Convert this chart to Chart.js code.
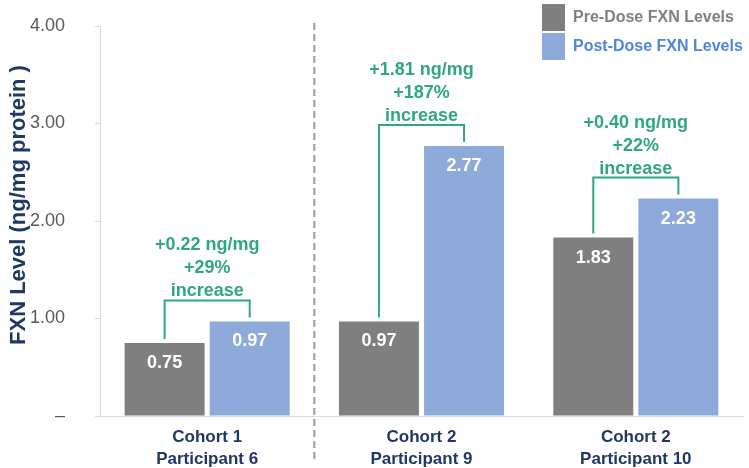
<!DOCTYPE html>
<html>
<head>
<meta charset="utf-8">
<script src="https://cdn.jsdelivr.net/npm/chart.js@4.4.1/dist/chart.umd.min.js"></script>
<style>
  body { margin: 0; background: #fff; }
  #wrap { width: 749px; height: 468px; position: relative; }
</style>
</head>
<body>
<div id="wrap"><canvas id="fxnChart"></canvas></div>
<script>
const categories = [['Cohort 1', 'Participant 6'], ['Cohort 2', 'Participant 9'], ['Cohort 2', 'Participant 10']];
const preDose = [0.75, 0.97, 1.83];
const postDose = [0.97, 2.77, 2.23];
const changeText = ['+0.22 ng/mg', '+1.81 ng/mg', '+0.40 ng/mg'];
const pctText = ['+29%', '+187%', '+22%'];
const seriesNames = ['Pre-Dose FXN Levels', 'Post-Dose FXN Levels'];
const yTicks = [0, 1, 2, 3, 4];
const yTitle = 'FXN Level (ng/mg protein )';

const GRAY = '#7f7f7f';
const BLUE = '#8eaadb';
const GREEN = '#2fa87b';
const NAVY = '#1f3864';
const FONT = 'Liberation Sans, Arial, sans-serif';

// labels, brackets, divider, axis title and legend drawn on top of the bars
const overlay = {
  id: 'overlay',
  afterDatasetsDraw(chart) {
    const ctx = chart.ctx;
    const x = chart.scales.x;
    const y = chart.scales.y;
    const area = chart.chartArea;
    const pre = chart.getDatasetMeta(0).data;
    const post = chart.getDatasetMeta(1).data;

    // values inside bars
    ctx.save();
    ctx.fillStyle = '#fff';
    ctx.font = 'bold 18px ' + FONT;
    ctx.textAlign = 'center';
    ctx.textBaseline = 'middle';
    [pre, post].forEach((bars, d) => {
      const vals = d === 0 ? preDose : postDose;
      bars.forEach((b, i) => ctx.fillText(vals[i].toFixed(2), b.x, b.y + 20));
    });
    ctx.restore();

    // brackets and change text
    ctx.save();
    ctx.strokeStyle = GREEN;
    ctx.fillStyle = GREEN;
    ctx.lineWidth = 2;
    ctx.font = 'bold 18px ' + FONT;
    ctx.textAlign = 'center';
    ctx.textBaseline = 'middle';
    for (let i = 0; i < categories.length; i++) {
      const x1 = pre[i].x, x2 = post[i].x;
      const yPre = y.getPixelForValue(preDose[i]);
      const yPost = y.getPixelForValue(postDose[i]);
      const top = Math.min(yPre, yPost) - 21;
      ctx.beginPath();
      ctx.moveTo(x1, yPre - 4);
      ctx.lineTo(x1, top);
      ctx.lineTo(x2, top);
      ctx.lineTo(x2, yPost - 4);
      ctx.stroke();
      const cx = (x1 + x2) / 2;
      ctx.fillText('increase', cx, top - 9);
      ctx.fillText(pctText[i], cx, top - 32);
      ctx.fillText(changeText[i], cx, top - 55);
    }
    ctx.restore();

    // dashed divider between cohort 1 and cohort 2
    const dx = (x.getPixelForValue(0) + x.getPixelForValue(1)) / 2;
    ctx.save();
    ctx.strokeStyle = '#9a9a9a';
    ctx.lineWidth = 2;
    ctx.setLineDash([7, 4]);
    ctx.beginPath();
    ctx.moveTo(dx, area.top - 3);
    ctx.lineTo(dx, chart.height - 6);
    ctx.stroke();
    ctx.restore();

    // y axis title
    ctx.save();
    ctx.translate(19, (area.top + area.bottom) / 2 - 16);
    ctx.rotate(-Math.PI / 2);
    ctx.fillStyle = NAVY;
    ctx.font = 'bold 22px ' + FONT;
    ctx.textAlign = 'center';
    ctx.textBaseline = 'middle';
    ctx.fillText(yTitle, 0, 0);
    ctx.restore();

    // legend
    ctx.save();
    ctx.font = 'bold 16px ' + FONT;
    ctx.textAlign = 'left';
    ctx.textBaseline = 'middle';
    const colors = [GRAY, BLUE];
    const textColors = ['#7f7f7f', '#4f86d9'];
    for (let k = 0; k < seriesNames.length; k++) {
      const ly = 4 + k * 29;
      ctx.fillStyle = colors[k];
      ctx.fillRect(542, ly, 23, 27);
      ctx.fillStyle = textColors[k];
      ctx.fillText(seriesNames[k], 573, ly + 14);
    }
    ctx.restore();
  }
};

new Chart(document.getElementById('fxnChart'), {
  type: 'bar',
  data: {
    labels: categories,
    datasets: [
      { label: seriesNames[0], data: preDose, backgroundColor: GRAY },
      { label: seriesNames[1], data: postDose, backgroundColor: BLUE }
    ]
  },
  options: {
    responsive: true,
    maintainAspectRatio: false,
    animation: false,
    events: [],
    layout: { padding: { top: 26, right: 6, left: 0, bottom: 0 } },
    datasets: { bar: { categoryPercentage: 0.794, barPercentage: 0.94 } },
    plugins: { legend: { display: false }, tooltip: { enabled: false } },
    scales: {
      x: {
        grid: { display: false },
        border: { color: '#d9d9d9', width: 1 },
        ticks: {
          color: NAVY,
          font: { family: FONT, size: 17, weight: 'bold', lineHeight: 1.25 },
          padding: 3,
          maxRotation: 0
        },
        afterFit(scale) { scale.height = 52; }
      },
      y: {
        min: 0,
        max: 4,
        afterBuildTicks(scale) { scale.ticks = yTicks.map(v => ({ value: v })); },
        grid: { drawOnChartArea: false, color: '#d9d9d9', tickLength: 5 },
        border: { color: '#d9d9d9', width: 1 },
        ticks: {
          color: '#595959',
          font: { family: FONT, size: 18 },
          padding: 30,
          callback: v => v === 0 ? '–' : v.toFixed(2)
        },
        afterFit(scale) {
          scale.width = 100;
          scale.paddingTop = 0;
          scale.paddingBottom = 0;
        }
      }
    }
  },
  plugins: [overlay]
});
</script>
</body>
</html>
